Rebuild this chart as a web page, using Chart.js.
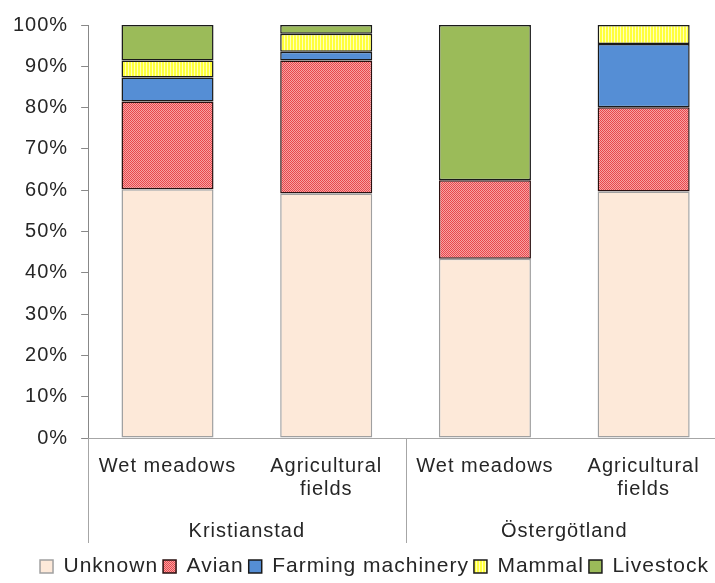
<!DOCTYPE html>
<html lang="en">
<head>
  <meta charset="UTF-8">
  <title>Sources</title>
  <style>
    body { margin: 0; overflow: hidden; background: #fff; }
  </style>
</head>
<body>
  <canvas id="myChart" width="724" height="583"></canvas>
  <script src="https://cdn.jsdelivr.net/npm/chart.js"></script>
  <script>
    // data (percent of each bar)
    const categories = [['Wet meadows'], ['Agricultural', 'fields'], ['Wet meadows'], ['Agricultural', 'fields']]
    const regions = ['Kristianstad', 'Östergötland']
    const unknown = [60.2, 59.2, 43.4, 59.7]
    const avian = [21.3, 32.2, 19.0, 20.4]
    const farming = [5.8, 2.1, 0, 15.3]
    const mammal = [4.1, 4.4, 0, 4.6]
    const livestock = [8.6, 2.1, 37.6, 0]

    const font = "'Liberation Sans', Arial, sans-serif"

    function makePattern(w, h, draw){
      const c = document.createElement('canvas')
      c.width = w
      c.height = h
      draw(c.getContext('2d'))
      return c.getContext('2d').createPattern(c, 'repeat')
    }

    // red checker for Avian
    const avianFill = makePattern(2, 2, (g) => {
      g.fillStyle = '#f7a3a3'
      g.fillRect(0, 0, 2, 2)
      g.fillStyle = '#e8474c'
      g.fillRect(0, 0, 1, 1)
      g.fillRect(1, 1, 1, 1)
    })
    // yellow vertical stripes for Mammal
    const mammalFill = makePattern(3, 1, (g) => {
      g.fillStyle = '#ffff3c'
      g.fillRect(0, 0, 3, 1)
      g.fillStyle = '#ffffb8'
      g.fillRect(2, 0, 1, 1)
    })

    // the original text is a little wider than Arial
    const spacing = {
      id: 'spacing',
      beforeLayout(chart){ chart.ctx.letterSpacing = '1px' },
      afterLayout(chart){
        // legend sits a bit right of centre and lower in the original
        chart.legend.left += 13
        chart.legend.right += 13
        chart.legend.top += 6
        chart.legend.bottom += 6
      },
      beforeDraw(chart){ chart.ctx.letterSpacing = '1px' }
    }

    // vertical separators between the region groups
    const separators = {
      id: 'separators',
      afterDraw(chart){
        const x = chart.scales.x
        const x2 = chart.scales.x2
        const ctx = chart.ctx
        ctx.save()
        ctx.strokeStyle = '#a6a6a6'
        ctx.lineWidth = 1
        ;[-0.5, 1.5, 3.5].forEach(v => {
          const px = Math.round(x.getPixelForValue(v)) + 0.5
          ctx.beginPath()
          ctx.moveTo(px, x.top)
          ctx.lineTo(px, x2.bottom - 2)
          ctx.stroke()
        })
        ctx.restore()
      }
    }

    const data = {
      labels: categories,
      datasets: [
        {
          label: 'Unknown',
          data: unknown,
          backgroundColor: '#fde9d9',
          borderColor: '#a0a0a0',
          borderWidth: 1.5
        },
        {
          label: 'Avian',
          data: avian,
          backgroundColor: avianFill,
          borderColor: '#2a1010',
          borderWidth: 1.5
        },
        {
          label: 'Farming machinery',
          data: farming,
          backgroundColor: '#558ed5',
          borderColor: '#1a1a1a',
          borderWidth: 1.5
        },
        {
          label: 'Mammal',
          data: mammal,
          backgroundColor: mammalFill,
          borderColor: '#1a1a1a',
          borderWidth: 1.5
        },
        {
          label: 'Livestock',
          data: livestock,
          backgroundColor: '#9bbb59',
          borderColor: '#1a1a1a',
          borderWidth: 1.5
        }
      ]
    }

    const config = {
      type: 'bar',
      data: data,
      options: {
        responsive: false,
        animation: false,
        barPercentage: 0.58,
        categoryPercentage: 1,
        borderSkipped: false,
        layout: {
          padding: { top: 24, left: 0, right: 1, bottom: 2 }
        },
        plugins: {
          tooltip: { enabled: false },
          legend: {
            position: 'bottom',
            labels: {
              font: { family: font, size: 21 },
              color: '#262626',
              boxWidth: 13,
              boxHeight: 13,
              padding: 5
            }
          }
        },
        scales: {
          x: {
            stacked: true,
            grid: { display: false },
            border: { display: true, color: '#a6a6a6' },
            ticks: {
              font: { family: font, size: 20, lineHeight: 1.15 },
              color: '#262626',
              padding: 9,
              maxRotation: 0,
              autoSkip: false
            }
          },
          x2: {
            type: 'category',
            labels: regions,
            position: 'bottom',
            weight: 1,
            offset: true,
            grid: { display: false },
            border: { display: false },
            ticks: {
              font: { family: font, size: 20, lineHeight: 1.15 },
              color: '#262626',
              padding: 2
            }
          },
          y: {
            stacked: true,
            min: 0,
            max: 100,
            grid: {
              drawOnChartArea: false,
              color: '#888888',
              tickLength: 7
            },
            border: { display: true, color: '#888888' },
            ticks: {
              stepSize: 10,
              padding: 13,
              font: { family: font, size: 20 },
              color: '#262626',
              callback: (v) => v + '%'
            }
          }
        }
      },
      plugins: [spacing, separators]
    }

    const myChart = new Chart(document.getElementById('myChart'), config)
  </script>
</body>
</html>
